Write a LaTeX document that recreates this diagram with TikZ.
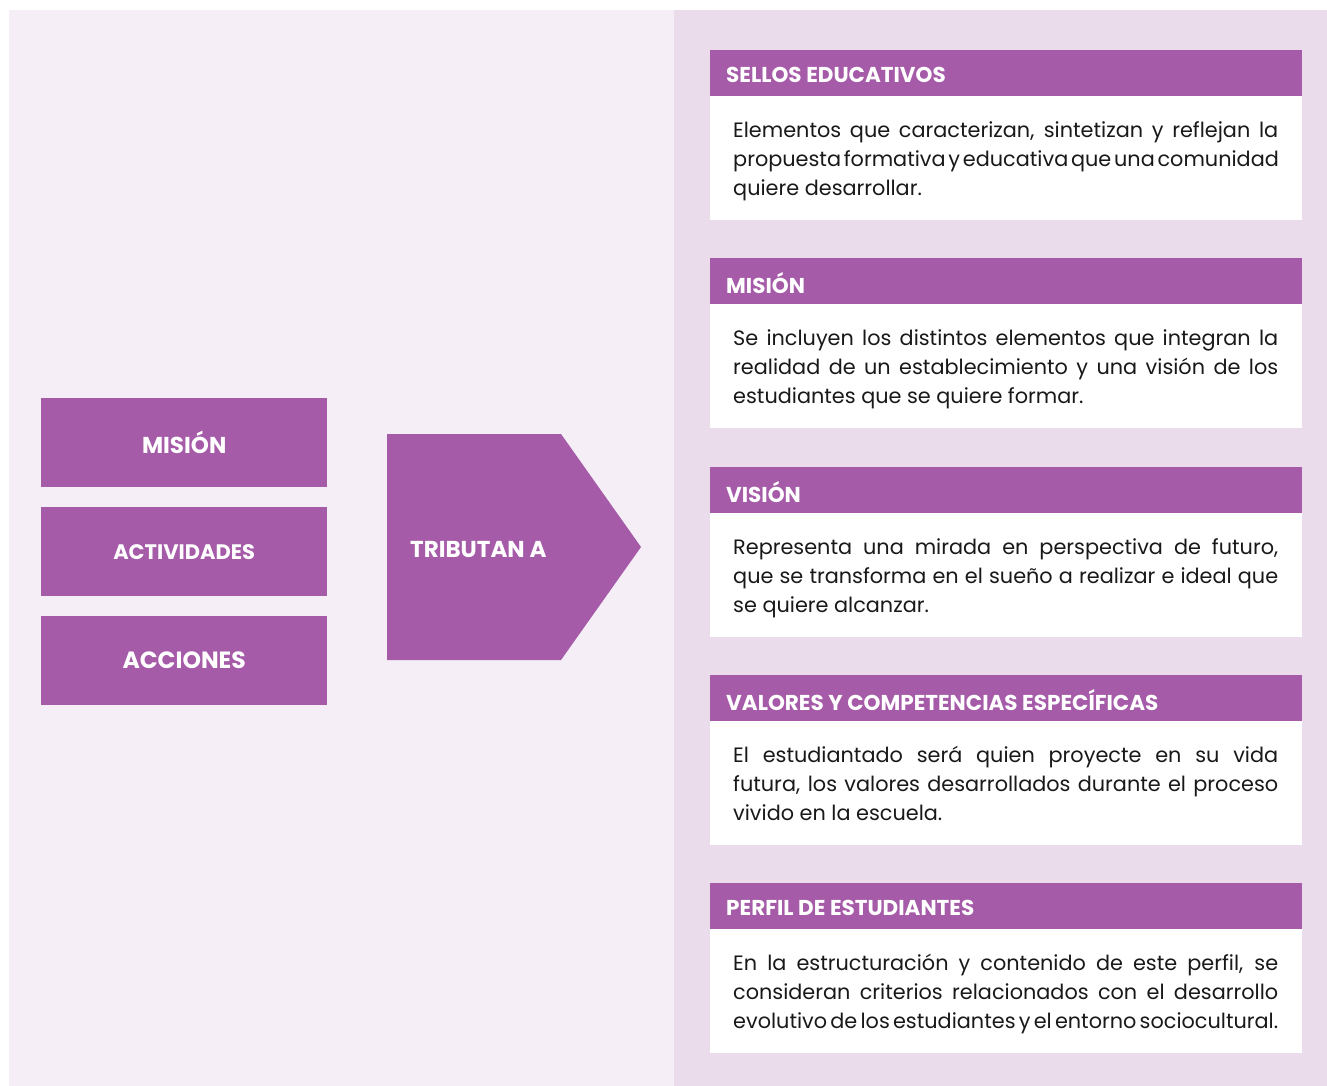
\documentclass[tikz,border=0pt]{standalone}
\usepackage{fontspec}
\setmainfont{Poppins}
\usetikzlibrary{positioning}
\definecolor{purp}{HTML}{A55BA8}
\definecolor{bgL}{HTML}{F5EEF6}
\definecolor{bgR}{HTML}{EBDCEC}
\newcommand{\jline}[1]{\hbox to 545pt{\spaceskip=\fontdimen2\font plus 1.5\fontdimen2\font minus 0.5\fontdimen2\font #1}}
\newcommand{\eline}[1]{\hbox{#1}}
\tikzset{
  lbox/.style={fill=purp, draw=none, anchor=north west, minimum width=286pt, minimum height=89pt, inner sep=0pt, text=white, font=\fontsize{23}{26}\selectfont\bfseries},
  hdr/.style={fill=purp, draw=none, anchor=north west, minimum width=592pt, minimum height=46pt, inner sep=0pt},
  hdrtext/.style={anchor=west, text=white, inner sep=0pt, font=\fontsize{21.5}{24}\selectfont\bfseries},
  body/.style={fill=white, draw=none, anchor=north west, minimum width=592pt, minimum height=124pt, inner sep=0pt},
  bodytext/.style={anchor=north west, inner sep=0pt, text=black!90, font=\fontsize{20.8}{29}\selectfont}
}
\begin{document}
\begin{tikzpicture}[x=1pt,y=-1pt]
\useasboundingbox (0,0) rectangle (1327,1086);
\fill[bgL] (9,10) rectangle (674,1086);
\fill[bgR] (674,10) rectangle (1327,1086);
% left boxes
\node[lbox] (mision) at (41,398) {MISIÓN};
\node[lbox, font=\fontsize{21}{24}\selectfont\bfseries] (activ) at (41,507) {ACTIVIDADES};
\node[lbox, font=\fontsize{23.5}{26}\selectfont\bfseries] (acc) at (41,616) {ACCIONES};
% arrow
\fill[purp] (387,434) -- (561,434) -- (641,547) -- (561,660) -- (387,660) -- cycle;
\node[anchor=west, text=white, inner sep=0pt, font=\fontsize{23}{26}\selectfont\bfseries] (trib) at (410,550) {TRIBUTAN A};
% cards
\foreach \y/\name/\title/\txt in {
 50/c1/{SELLOS EDUCATIVOS}/{\jline{Elementos que caracterizan, sintetizan y reflejan la}\jline{propuesta formativa y educativa que una comunidad}\eline{quiere desarrollar.}},
 258/c2/{MISIÓN}/{\jline{Se incluyen los distintos elementos que integran la}\jline{realidad de un establecimiento y una visión de los}\eline{estudiantes que se quiere formar.}},
 467/c3/{VISIÓN}/{\jline{Representa una mirada en perspectiva de futuro,}\jline{que se transforma en el sueño a realizar e ideal que}\eline{se quiere alcanzar.}},
 675/c4/{VALORES Y COMPETENCIAS ESPECÍFICAS}/{\jline{El estudiantado será quien proyecte en su vida}\jline{futura, los valores desarrollados durante el proceso}\eline{vivido en la escuela.}},
 883/c5/{PERFIL DE ESTUDIANTES}/{\jline{En la estructuración y contenido de este perfil, se}\jline{consideran criterios relacionados con el desarrollo}\jline{evolutivo de los estudiantes y el entorno sociocultural.}}}
{
  \node[hdr] (\name h) at (710,\y) {};
  \node[hdrtext] (\name t) at ([xshift=16pt,yshift=-2pt]\name h.west) {\title};
  \node[body] (\name b) at (710,\y+46) {};
  \node[bodytext] (\name x) at (733,\y+71) {\vbox{\txt}};
}
\end{tikzpicture}
\end{document}
